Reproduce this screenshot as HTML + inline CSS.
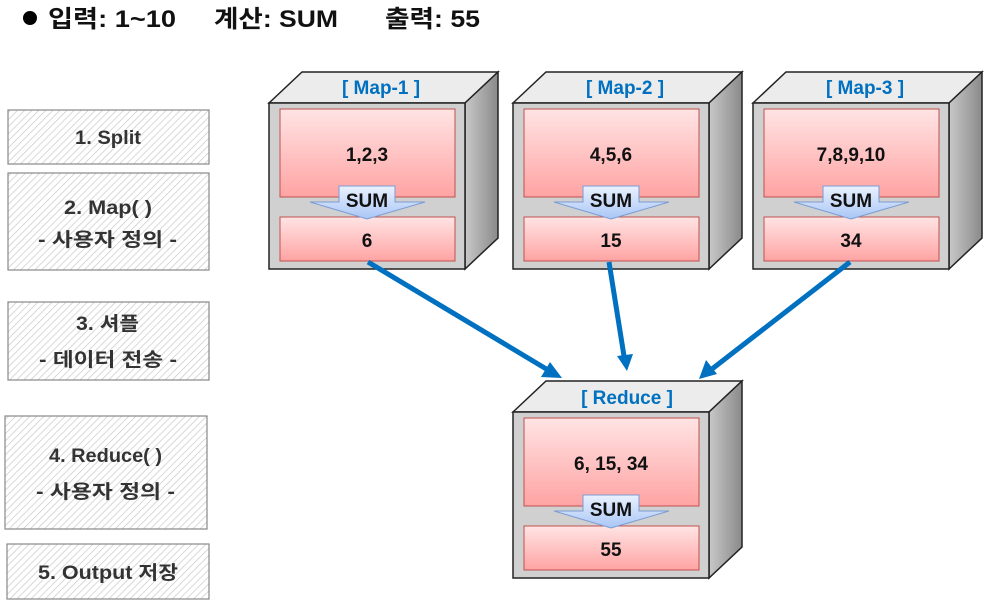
<!DOCTYPE html><html><head><meta charset="utf-8"><style>body{margin:0;background:#fff}svg{display:block}text{font-family:"Liberation Sans","Noto Sans CJK KR",sans-serif;font-weight:bold}</style></head><body>
<svg width="997" height="606" viewBox="0 0 997 606" xmlns="http://www.w3.org/2000/svg">
<defs>
<pattern id="h" width="5" height="5" patternUnits="userSpaceOnUse" patternTransform="rotate(45)"><rect width="5" height="5" fill="#fff"/><line x1="0" y1="0" x2="0" y2="5" stroke="#ccc" stroke-width="1.5"/></pattern>
<linearGradient id="r" x1="0" y1="0" x2="0" y2="1"><stop offset="0" stop-color="#ffe4e4"/><stop offset="1" stop-color="#ffa3a3"/></linearGradient>
<linearGradient id="b" x1="0" y1="0" x2="0" y2="1"><stop offset="0" stop-color="#eaf2ff"/><stop offset="1" stop-color="#a9c6f5"/></linearGradient>
<linearGradient id="side" x1="0" y1="0" x2="1" y2="0"><stop offset="0" stop-color="#c8c8c8"/><stop offset="1" stop-color="#8a8a8a"/></linearGradient>
<g id="cube">
<polygon points="0,31 33,0 229,0 196,31" fill="#ececec" stroke="#222" stroke-width="1.5"/>
<polygon points="196,31 229,0 229,166 196,197" fill="url(#side)" stroke="#222" stroke-width="1.5"/>
<rect x="0" y="31" width="196" height="166" fill="#d0d0d0" stroke="#222" stroke-width="1.5"/>
<rect x="11" y="37" width="175" height="88" fill="url(#r)" stroke="#c0504d" stroke-width="1"/>
<rect x="11" y="145" width="175" height="44" fill="url(#r)" stroke="#c0504d" stroke-width="1"/>
<polygon points="70,114 126,114 126,130 156,130 98,147 41,130 70,130" fill="url(#b)" stroke="#7b9cd3" stroke-width="1"/>
<text x="98" y="135" font-size="19" text-anchor="middle" fill="#111">SUM</text>
</g>
</defs>
<circle cx="30" cy="18" r="7" fill="#000"/>
<text x="48" y="27" font-size="24" fill="#111" textLength="128" lengthAdjust="spacingAndGlyphs">입력: 1~10</text>
<text x="214" y="27" font-size="24" fill="#111" textLength="124" lengthAdjust="spacingAndGlyphs">계산: SUM</text>
<text x="385" y="27" font-size="24" fill="#111" textLength="95" lengthAdjust="spacingAndGlyphs">출력: 55</text>
<g fill="url(#h)" stroke="#888" stroke-width="1.2">
<rect x="8" y="110" width="201" height="54"/><rect x="8" y="173" width="201" height="97"/><rect x="8" y="302" width="201" height="78"/><rect x="5" y="416" width="202" height="113"/><rect x="7" y="544" width="202" height="55"/></g>
<g font-size="19" fill="#333">
<text x="75" y="144" textLength="66" lengthAdjust="spacingAndGlyphs">1. Split</text>
<text x="64" y="214" textLength="88" lengthAdjust="spacingAndGlyphs">2. Map( )</text><text x="38" y="246" textLength="139" lengthAdjust="spacingAndGlyphs">- 사용자 정의 -</text>
<text x="76" y="330" textLength="63" lengthAdjust="spacingAndGlyphs">3. 셔플</text><text x="39" y="366" textLength="138" lengthAdjust="spacingAndGlyphs">- 데이터 전송 -</text>
<text x="49" y="462" textLength="113" lengthAdjust="spacingAndGlyphs">4. Reduce( )</text><text x="36" y="498" textLength="139" lengthAdjust="spacingAndGlyphs">- 사용자 정의 -</text>
<text x="38" y="579" textLength="140" lengthAdjust="spacingAndGlyphs">5. Output 저장</text></g>
<use href="#cube" x="269" y="72"/><use href="#cube" x="513" y="72"/><use href="#cube" x="753" y="72"/><use href="#cube" x="513" y="381"/>
<g font-size="19" fill="#0070c0" text-anchor="middle">
<text x="381" y="94">[ Map-1 ]</text><text x="625" y="94">[ Map-2 ]</text><text x="865" y="94">[ Map-3 ]</text><text x="627" y="404">[ Reduce ]</text></g>
<g font-size="19" fill="#111" text-anchor="middle">
<text x="367" y="161">1,2,3</text><text x="367" y="247">6</text>
<text x="611" y="161">4,5,6</text><text x="611" y="247">15</text>
<text x="851" y="161">7,8,9,10</text><text x="851" y="247">34</text>
<text x="611" y="470">6, 15, 34</text><text x="611" y="556">55</text></g>
<g stroke="#0070c0" stroke-width="5" fill="#0070c0">
<line x1="368" y1="262" x2="548" y2="370"/><polygon points="562,378 541,377 550,362" stroke="none"/>
<line x1="609" y1="262" x2="624" y2="356"/><polygon points="627,371 617,356 633,354" stroke="none"/>
<line x1="850" y1="262" x2="712" y2="369"/><polygon points="699,379 706,360 717,374" stroke="none"/>
</g>
</svg></body></html>
